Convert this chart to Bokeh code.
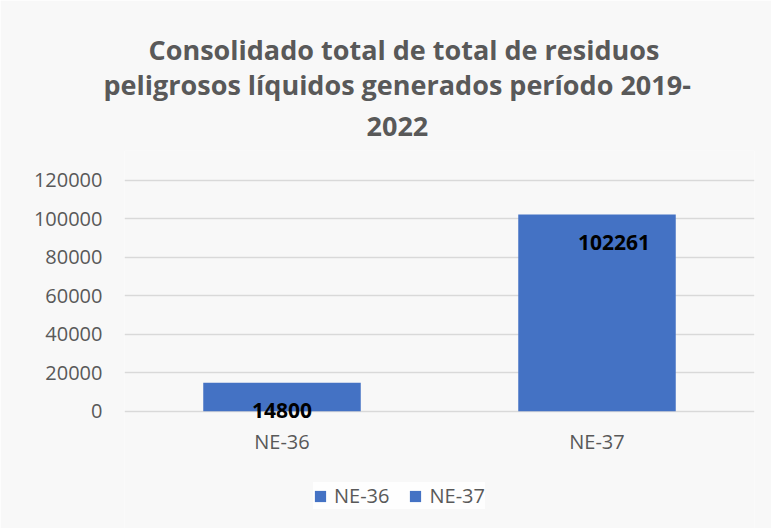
from bokeh.plotting import figure
from bokeh.models import Legend, LegendItem, LabelSet, ColumnDataSource, Title, NumeralTickFormatter
from bokeh.core.properties import value
from bokeh.embed import file_html
from bokeh.resources import INLINE

categories = ["NE-36", "NE-37"]
values = [14800, 102261]
labels = ["14800", "102261"]
y_ticks = [0, 20000, 40000, 60000, 80000, 100000, 120000]
title_lines = ["Consolidado total de total de residuos",
               "peligrosos líquidos generados período 2019-",
               "2022"]

BAR = "#4472C4"
GRAY = "#595959"
FONT = "Open Sans"
BG = "#f8f8f8"

p = figure(x_range=categories, y_range=(-61000, 135600), width=771, height=528,
           output_backend="svg", toolbar_location=None,
           min_border_left=124, min_border_right=17, min_border_top=150, min_border_bottom=0)

p.background_fill_color = BG
p.border_fill_color = BG
p.outline_line_color = None

renderers = []
for c, v in zip(categories, values):
    r = p.vbar(x=[c], top=[v], bottom=0, width=0.5, color=BAR, line_color=None)
    renderers.append(r)

# data labels
lab_src = ColumnDataSource(dict(x=categories, y=values, t=labels,
                                xo=[0, 17], yo=[-28, -28]))
ls = LabelSet(x="x", y="y", text="t", source=lab_src, x_offset="xo", y_offset="yo",
              text_align="center", text_baseline="middle", text_font=value(FONT),
              text_font_size="21px", text_font_style="bold", text_color="black")
p.add_layout(ls)

# category labels (drawn under the zero line)
cat_src = ColumnDataSource(dict(x=categories, y=[0] * len(categories), t=categories))
cl = LabelSet(x="x", y="y", text="t", source=cat_src, y_offset=-30,
              text_align="center", text_baseline="middle", text_font=value(FONT),
              text_font_size="20px", text_color=GRAY)
p.add_layout(cl)

# axes
p.yaxis.ticker = y_ticks
p.yaxis.formatter = NumeralTickFormatter(format="0")
p.yaxis.axis_line_color = None
p.yaxis.major_tick_line_color = None
p.yaxis.major_tick_out = 0
p.yaxis.minor_tick_line_color = None
p.yaxis.major_label_text_font = FONT
p.yaxis.major_label_text_font_size = "20px"
p.yaxis.major_label_text_color = GRAY
p.yaxis.major_label_standoff = 22

p.xaxis.visible = False

p.xgrid.grid_line_color = None
p.ygrid.grid_line_color = "#d9d9d9"
p.ygrid.grid_line_width = 1.5

# title lines (added bottom-most first)
title_offsets = [24, -21, 242]
title_standoffs = [0, -7, 30]
for line, off, so in reversed(list(zip(title_lines, title_offsets, title_standoffs))):
    t = Title(text=line, align="left", offset=off, text_font=FONT,
              text_font_size="27px", text_font_style="bold", text_color=GRAY)
    try:
        t.standoff = so
    except Exception:
        t.standoff = max(so, 0)
    p.add_layout(t, "above")

legend = Legend(items=[LegendItem(label=c, renderers=[r]) for c, r in zip(categories, renderers)],
                orientation="horizontal", location=(189, 19),
                label_text_font=FONT, label_text_font_size="20px", label_text_color=GRAY,
                glyph_width=14, glyph_height=14, label_standoff=7, spacing=19,
                padding=10, margin=0, border_line_color=None,
                background_fill_color="white", background_fill_alpha=0.8)
p.add_layout(legend)

open("out.html", "w").write(file_html(p, INLINE))
